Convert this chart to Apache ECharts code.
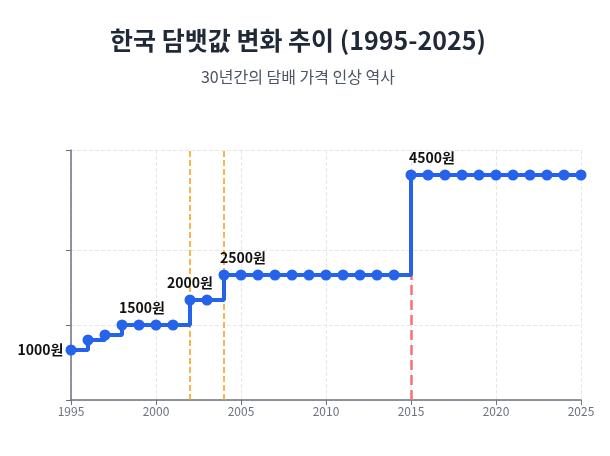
<!DOCTYPE html>
<html>
<head>
<meta charset="utf-8">
<script src="https://cdn.jsdelivr.net/npm/echarts@6/dist/echarts.min.js"></script>
<style>
  html, body { margin: 0; padding: 0; background: #fff; }
</style>
</head>
<body>
<div id="main" style="width: 610px; height: 456px"></div>
<script>
// ===================== data =====================
const years = [
  1995, 1996, 1997, 1998, 1999, 2000, 2001, 2002, 2003, 2004, 2005, 2006, 2007, 2008, 2009, 2010,
  2011, 2012, 2013, 2014, 2015, 2016, 2017, 2018, 2019, 2020, 2021, 2022, 2023, 2024, 2025,
]
const prices = [
  1000, 1200, 1300, 1500, 1500, 1500, 1500, 2000, 2000, 2500, 2500, 2500, 2500, 2500, 2500, 2500,
  2500, 2500, 2500, 2500, 4500, 4500, 4500, 4500, 4500, 4500, 4500, 4500, 4500, 4500, 4500,
]
const yTicks = [0, 1500, 3000, 5000]
// years with a price label
const labelYears = [1995, 1998, 2002, 2004, 2015]
const orangeMarks = [2002, 2004]
const redMark = 2015

const font = 'Noto Sans CJK KR'

// ===================== init =====================
const myChart = echarts.init(document.getElementById('main'))

const labelStyle = (year) => {
  const base = {
    show: true,
    formatter: (p) => p.value[1] + '원',
    fontFamily: font,
    fontSize: 14,
    fontWeight: 'bold',
    color: '#111',
    position: 'top',
    distance: 5,
  }
  if (year === 1995) return { ...base, position: 'left', distance: 2 }
  if (year === 1998) return { ...base, offset: [20, 0] }
  if (year === 2004) return { ...base, offset: [19, 0] }
  if (year === 2015) return { ...base, offset: [21, 0] }
  return base
}

const seriesData = years.map((y, i) => {
  const item = { value: [y, prices[i]] }
  if (labelYears.includes(y)) item.label = labelStyle(y)
  return item
})

const dashed = { color: '#e5e7eb', type: 'dashed' }

const option = {
  animation: false,
  title: {
    text: '한국 담뱃값 변화 추이 (1995-2025)',
    subtext: '30년간의 담배 가격 인상 역사',
    left: 293,
    top: 23,
    textAlign: 'center',
    itemGap: 16,
    textStyle: {
      fontFamily: font,
      fontSize: 25,
      fontWeight: 'bold',
      color: '#1f2937',
    },
    subtextStyle: {
      fontFamily: font,
      fontSize: 16,
      color: '#4b5563',
    },
  },
  grid: {
    left: 71,
    right: 29,
    top: 150,
    bottom: 56,
  },
  xAxis: {
    type: 'value',
    min: 1995,
    max: 2025,
    interval: 5,
    axisLine: { lineStyle: { color: '#6b7280', width: 1.5 } },
    axisTick: { show: true, length: 5, lineStyle: { color: '#6b7280' } },
    axisLabel: {
      color: '#6b7280',
      fontFamily: font,
      fontSize: 12,
      margin: 5,
      formatter: (v) => String(v),
    },
    splitLine: { show: true, lineStyle: dashed },
  },
  yAxis: {
    type: 'value',
    min: 0,
    max: 5000,
    axisLine: { show: true, lineStyle: { color: '#6b7280', width: 1.5 } },
    axisTick: { show: true, length: 5, customValues: yTicks, lineStyle: { color: '#6b7280' } },
    axisLabel: { show: false, customValues: yTicks },
    splitLine: { show: true, lineStyle: dashed },
  },
  series: [
    {
      // only carries the dashed reference lines, drawn under the price line
      name: 'marks',
      type: 'line',
      data: [],
      z: 1,
      markLine: {
        silent: true,
        z: 1,
        symbol: 'none',
        label: { show: false },
        data: [
          ...orangeMarks.map((y) => ({
            xAxis: y,
            lineStyle: { color: '#f59e0b', type: 'dashed', width: 1.5 },
          })),
          [
            { coord: [redMark, 0], lineStyle: { color: '#f87171', type: 'dashed', width: 2.5 } },
            { coord: [redMark, prices[years.indexOf(redMark)]] },
          ],
        ],
      },
    },
    {
      name: '담뱃값',
      type: 'line',
      step: 'end',
      data: seriesData,
      symbol: 'circle',
      symbolSize: 11,
      z: 3,
      lineStyle: { color: '#2563eb', width: 4 },
      itemStyle: { color: '#2563eb' },
    },
  ],
}
myChart.setOption(option)
</script>
</body>
</html>
